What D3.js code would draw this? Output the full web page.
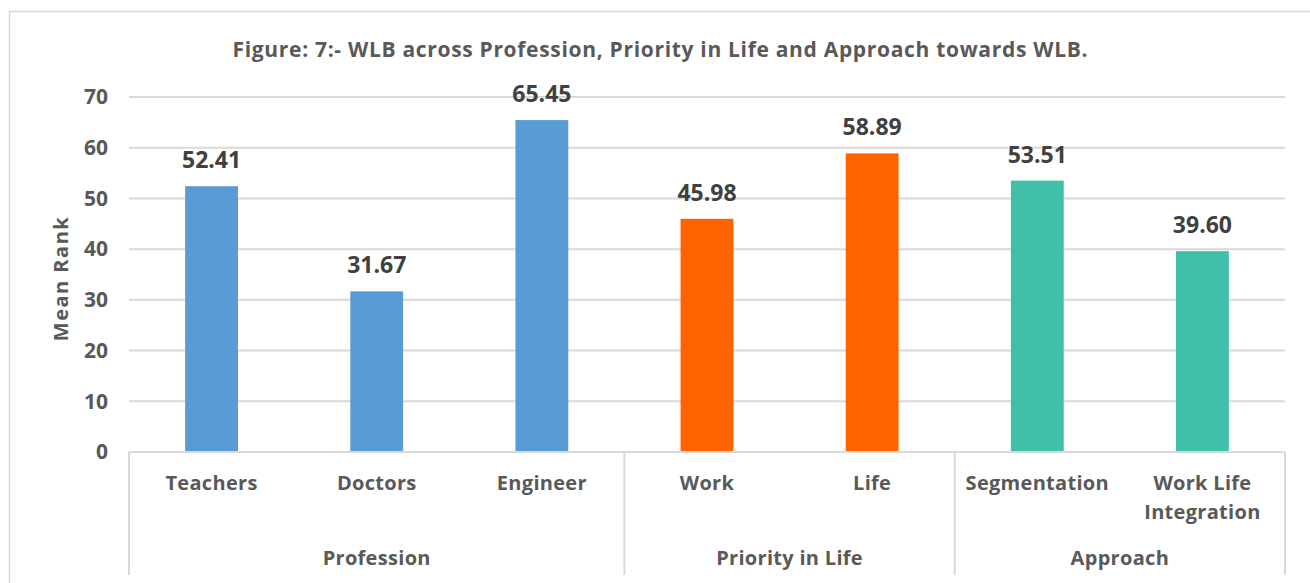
<!DOCTYPE html>
<html>
<head>
<meta charset="utf-8">
<script src="https://cdn.jsdelivr.net/npm/d3@7"></script>
<style>
  body { margin: 0; background: #fff; }
  svg { display: block; font-family: "Open Sans", Lato, sans-serif; }
</style>
</head>
<body>
<div id="app"></div>
<script>
// data
const categories = ['Teachers', 'Doctors', 'Engineer', 'Work', 'Life', 'Segmentation', 'Work Life\nIntegration']
const values = [52.41, 31.67, 65.45, 45.98, 58.89, 53.51, 39.60]
const groupOf = ['Profession', 'Profession', 'Profession', 'Priority in Life', 'Priority in Life', 'Approach', 'Approach']
const groups = ['Profession', 'Priority in Life', 'Approach']
const groupColors = ['#5B9BD5', '#FF6300', '#40BFA9']
const yTicks = [0, 10, 20, 30, 40, 50, 60, 70]

const width = 1310, height = 583
const m = { left: 129, right: 25, top: 97, bottom: 131 }
const font = '"Open Sans", Lato, sans-serif'

const svg = d3.select('#app').append('svg')
  .attr('width', width)
  .attr('height', height)

// outer border of the chart area
svg.append('rect')
  .attr('x', 9.5).attr('y', 11.5)
  .attr('width', 1320).attr('height', 600)
  .attr('fill', 'none')
  .attr('stroke', '#d9d9d9')
  .attr('stroke-width', 1.5)

const x = d3.scaleBand()
  .domain(categories)
  .range([m.left, width - m.right])
  .paddingInner(0.68)
  .paddingOuter(0.34)

const y = d3.scaleLinear()
  .domain([0, 70])
  .range([height - m.bottom, m.top])

// gridlines
svg.append('g')
  .selectAll('line')
  .data(yTicks.slice(1))
  .join('line')
  .attr('x1', m.left).attr('x2', width - m.right)
  .attr('y1', d => y(d)).attr('y2', d => y(d))
  .attr('stroke', '#d9d9d9')
  .attr('stroke-width', 2)

// y axis labels
const yAxis = svg.append('g')
  .attr('transform', `translate(${m.left - 21},0)`)
  .call(d3.axisLeft(y).tickValues(yTicks).tickSize(0).tickPadding(0))
yAxis.select('.domain').remove()
yAxis.selectAll('text')
  .attr('font-family', font)
  .attr('font-size', 21)
  .attr('font-weight', 'bold')
  .attr('fill', '#595959')

svg.append('text')
  .attr('transform', `translate(68,${(y(0) + y(70)) / 2 + 4}) rotate(-90)`)
  .attr('text-anchor', 'middle')
  .attr('font-size', 20)
  .attr('font-weight', 'bold')
  .attr('letter-spacing', 1.5)
  .attr('fill', '#595959')
  .text('Mean Rank')

// bars
svg.append('g')
  .selectAll('rect')
  .data(categories)
  .join('rect')
  .attr('x', d => x(d))
  .attr('width', x.bandwidth())
  .attr('y', (d, i) => y(values[i]))
  .attr('height', (d, i) => y(0) - y(values[i]))
  .attr('fill', (d, i) => groupColors[groups.indexOf(groupOf[i])])

// value labels
svg.append('g')
  .selectAll('text')
  .data(categories)
  .join('text')
  .attr('x', d => x(d) + x.bandwidth() / 2)
  .attr('y', (d, i) => y(values[i]) - 18)
  .attr('text-anchor', 'middle')
  .attr('font-size', 23)
  .attr('font-weight', 'bold')
  .attr('fill', '#404040')
  .text((d, i) => values[i].toFixed(2))

// baseline
const y0 = y(0)
svg.append('line')
  .attr('x1', m.left).attr('x2', width - m.right)
  .attr('y1', y0).attr('y2', y0)
  .attr('stroke', '#d9d9d9')
  .attr('stroke-width', 2)

// group dividers
const step = x.step()
const groupBounds = groups.map(g => {
  const idx = categories.filter((c, i) => groupOf[i] === g).map(c => categories.indexOf(c))
  return { name: g, x0: m.left + d3.min(idx) * step, x1: m.left + (d3.max(idx) + 1) * step }
})
const dividers = [m.left, ...groupBounds.map(b => b.x1)]
svg.append('g')
  .selectAll('line')
  .data(dividers)
  .join('line')
  .attr('x1', d => d).attr('x2', d => d)
  .attr('y1', y0).attr('y2', 575)
  .attr('stroke', '#d9d9d9')
  .attr('stroke-width', 2)

// category labels
svg.append('g')
  .selectAll('text')
  .data(categories)
  .join('text')
  .attr('x', d => x(d) + x.bandwidth() / 2)
  .attr('y', 490)
  .attr('text-anchor', 'middle')
  .attr('font-size', 20)
  .attr('font-weight', 'bold')
  .attr('letter-spacing', 0.3)
  .attr('fill', '#595959')
  .each(function(d) {
    d.split('\n').forEach((line, k) => {
      d3.select(this).append('tspan')
        .attr('x', x(d) + x.bandwidth() / 2)
        .attr('dy', k ? 29 : 0)
        .text(line)
    })
  })

// group labels
svg.append('g')
  .selectAll('text')
  .data(groupBounds)
  .join('text')
  .attr('x', d => (d.x0 + d.x1) / 2)
  .attr('y', 565)
  .attr('text-anchor', 'middle')
  .attr('font-size', 20)
  .attr('font-weight', 'bold')
  .attr('letter-spacing', 0.3)
  .attr('fill', '#595959')
  .text(d => d.name)

// title
svg.append('text')
  .attr('x', 660)
  .attr('y', 57)
  .attr('text-anchor', 'middle')
  .attr('font-size', 21)
  .attr('font-weight', 'bold')
  .attr('fill', '#595959')
  .attr('textLength', 855)
  .attr('lengthAdjust', 'spacing')
  .text('Figure: 7:- WLB across Profession, Priority in Life and Approach towards WLB.')
</script>
</body>
</html>
